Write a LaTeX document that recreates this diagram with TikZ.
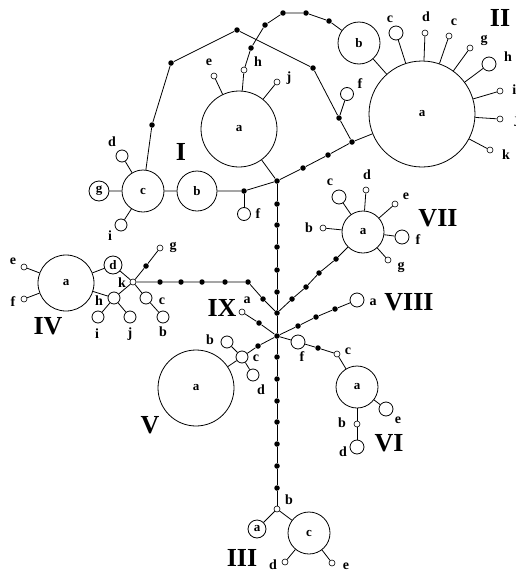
\documentclass[tikz,border=0pt]{standalone}
\usepackage{fontspec}
\setmainfont{Liberation Serif}
\begin{document}
\begin{tikzpicture}[x=1pt,y=-1pt,line width=0.8pt,
  hap/.style={circle,draw,inner sep=0pt,minimum size=#1,font=\fontsize{13}{13}\selectfont\bfseries},
  bd/.style={circle,fill,inner sep=0pt,minimum size=5.5pt},
  sm/.style={circle,draw,fill=white,inner sep=0pt,minimum size=6pt,line width=0.6pt},
  lab/.style={inner sep=0pt,font=\fontsize{14}{14}\selectfont\bfseries},
  grp/.style={inner sep=0pt,font=\fontsize{26}{26}\selectfont\bfseries}]
\useasboundingbox[fill=white] (0,0) rectangle (515,573);

% ---------------- Group I
\node[hap=76pt] (Ia) at (239,129) {a};
\node[hap=40pt] (Ib) at (197,191) {b};
\node[hap=42pt] (Ic) at (143,191) {c};
\node[hap=20pt] (Ig) at (99,191) {g};
\node[hap=12pt] (Id) at (122,156) {};
\node[hap=12pt] (Ii) at (121,225) {};
\node[sm] (Ie) at (214,76) {};
\node[sm] (Ih) at (244,70) {};
\node[sm] (Ij) at (277,82) {};
\node[bd] (Idot) at (244,191) {};
\node[hap=13pt] (If) at (244,214) {};
\node[bd] (J1) at (277,181) {};
\node[lab] (lId) at (112,142) {d};
\node[lab] (lIi) at (110,236) {i};
\node[lab] (lIe) at (209,62) {e};
\node[lab] (lIh) at (258,62) {h};
\node[lab] (lIj) at (289,78) {j};
\node[lab] (lIf) at (258,214) {f};
\node[grp] (gI) at (181,152) {I};

\draw (Ig) -- (Ic) -- (Ib) -- (Idot) -- (J1) -- (Ia);
\draw (Idot) -- (If);
\draw (Ic) -- (Id);
\draw (Ic) -- (Ii);
\draw (Ia) -- (Ie);
\draw (Ia) -- (Ih);
\draw (Ia) -- (Ij);

% ---------------- top path from I.c to II
\node[bd] (P1) at (152,125) {};
\node[bd] (P2) at (171,63) {};
\node[bd] (P3) at (237,30) {};
\node[bd] (P4) at (313,68) {};
\node[bd] (P5) at (339,118) {};
\node[bd] (J2) at (352,142) {};
\node[bd] (D1) at (303,168) {};
\node[bd] (D2) at (328,155) {};
\node[hap=13pt] (IIf) at (347,94) {};
\node[lab] (lIIf) at (360,84) {f};
\draw (Ic) -- (P1) -- (P2) -- (P3) -- (P4) -- (P5) -- (J2);
\draw (P5) -- (IIf);
\draw (J1) -- (D1) -- (D2) -- (J2);

% h path to II.b
\node[bd] (H1) at (251,48) {};
\node[bd] (H2) at (265,25) {};
\node[bd] (H3) at (283,13) {};
\node[bd] (H4) at (306,13) {};
\node[bd] (H5) at (329,21) {};
\node[hap=42pt] (IIb) at (359,43) {b};
\draw (Ih) -- (H1) -- (H2) -- (H3) -- (H4) -- (H5) -- (IIb);

% ---------------- Group II
\node[hap=106pt] (IIa) at (422,114) {a};
\draw (J2) -- (IIa);
\draw (IIb) -- (IIa);
\node[hap=14pt] (IIc1) at (396,33) {};
\node[sm] (IId) at (425,33) {};
\node[sm] (IIc2) at (449,36) {};
\node[sm] (IIg) at (470,48) {};
\node[hap=14pt] (IIh) at (489,64) {};
\node[sm] (IIi) at (500,91) {};
\node[sm] (IIj) at (500,119) {};
\node[sm] (IIk) at (490,150) {};
\foreach \s in {IIc1,IId,IIc2,IIg,IIh,IIi,IIj,IIk} \draw (IIa) -- (\s);
\node[lab] (lIIc1) at (390,19) {c};
\node[lab] (lIId) at (426,17) {d};
\node[lab] (lIIc2) at (454,22) {c};
\node[lab] (lIIg) at (484,40) {g};
\node[lab] (lIIh) at (508,57) {h};
\node[lab,anchor=west] (lIIi) at (512,90) {i};
\node[lab,anchor=west] (lIIj) at (514,120) {j};
\node[lab] (lIIk) at (506,155) {k};
\node[grp] (gII) at (500,18) {II};

% ---------------- central trunk
\node[bd] (V1) at (277,204) {};
\node[bd] (V2) at (277,225) {};
\node[bd] (V3) at (277,247) {};
\node[bd] (V4) at (277,270) {};
\node[bd] (V5) at (277,292) {};
\node[bd] (J3) at (277,313) {};
\node[bd] (Hub) at (277,336) {};
\node[bd] (W1) at (277,357) {};
\node[bd] (W2) at (277,379) {};
\node[bd] (W3) at (277,401) {};
\node[bd] (W4) at (277,422) {};
\node[bd] (W5) at (277,444) {};
\node[bd] (W6) at (277,466) {};
\node[bd] (W7) at (277,488) {};
\node[sm] (IIIb) at (277,509) {};
\draw (J1) -- (V1) -- (V2) -- (V3) -- (V4) -- (V5) -- (J3) -- (Hub) -- (W1) -- (W2) -- (W3) -- (W4) -- (W5) -- (W6) -- (W7) -- (IIIb);

% ---------------- Group III
\node[hap=18pt] (IIIa) at (257,529) {a};
\node[hap=42pt] (IIIc) at (309,533) {c};
\node[sm] (IIId) at (285,562) {};
\node[sm] (IIIe) at (332,563) {};
\draw (IIIb) -- (IIIa);
\draw (IIIb) -- (IIIc);
\draw (IIIc) -- (IIId);
\draw (IIIc) -- (IIIe);
\node[lab] (lIIIb) at (289,500) {b};
\node[lab] (lIIId) at (273,565) {d};
\node[lab] (lIIIe) at (346,566) {e};
\node[grp] (gIII) at (242,558) {III};

% ---------------- Group IX
\node[sm] (IXa) at (242,312) {};
\node[bd] (IXd) at (259,323) {};
\draw (IXa) -- (IXd) -- (Hub);
\node[lab] (lIXa) at (247,300) {a};
\node[grp] (gIX) at (222,308) {IX};

% ---------------- Group IV
\node[hap=56pt] (IVa) at (66,283) {a};
\node[hap=18pt] (IVd) at (113,265) {d};
\node[sm] (IVe) at (24,267) {};
\node[sm] (IVf) at (24,299) {};
\node[hap=12pt] (IVh) at (114,298) {};
\node[hap=12pt] (IVi) at (98,317) {};
\node[hap=12pt] (IVj) at (130,317) {};
\node[sm] (IVk) at (133,282) {};
\node[hap=12pt] (IVc) at (146,298) {};
\node[hap=12pt] (IVb) at (163,317) {};
\node[sm] (IVg) at (160,248) {};
\node[bd] (IVdot) at (146,266) {};
\draw (IVa) -- (IVd) -- (IVk);
\draw (IVa) -- (IVh) -- (IVk);
\draw (IVa) -- (IVe);
\draw (IVa) -- (IVf);
\draw (IVh) -- (IVi);
\draw (IVh) -- (IVj);
\draw (IVk) -- (IVc) -- (IVb);
\draw (IVk) -- (IVdot) -- (IVg);
\node[bd] (K1) at (160,282) {};
\node[bd] (K2) at (181,282) {};
\node[bd] (K3) at (202,282) {};
\node[bd] (K4) at (225,282) {};
\node[bd] (K5) at (248,282) {};
\node[bd] (K6) at (263,299) {};
\draw (IVk) -- (K1) -- (K2) -- (K3) -- (K4) -- (K5) -- (K6) -- (J3);
\node[lab] (lIVe) at (13,261) {e};
\node[lab] (lIVf) at (13,302) {f};
\node[lab] (lIVh) at (99,301) {h};
\node[lab] (lIVi) at (97,334) {i};
\node[lab] (lIVj) at (130,334) {j};
\node[lab] (lIVc) at (162,301) {c};
\node[lab] (lIVb) at (163,332) {b};
\node[lab] (lIVg) at (173,247) {g};
\node[lab] (lIVk) at (122,283) {k};
\node[grp] (gIV) at (48,326) {IV};

% ---------------- Group VII
\node[bd] (S1) at (292,299) {};
\node[bd] (S2) at (306,287) {};
\node[bd] (S3) at (319,273) {};
\node[bd] (S4) at (336,259) {};
\node[hap=42pt] (VIIa) at (363,232) {a};
\draw (J3) -- (S1) -- (S2) -- (S3) -- (S4) -- (VIIa);
\node[hap=14pt] (VIIc) at (339,197) {};
\node[sm] (VIId) at (366,190) {};
\node[sm] (VIIe) at (395,204) {};
\node[hap=14pt] (VIIf) at (402,237) {};
\node[sm] (VIIg) at (388,260) {};
\node[sm] (VIIb) at (323,228) {};
\foreach \s in {VIIc,VIId,VIIe,VIIf,VIIg,VIIb} \draw (VIIa) -- (\s);
\node[lab] (lVIIc) at (330,182) {c};
\node[lab] (lVIId) at (367,175) {d};
\node[lab] (lVIIe) at (406,196) {e};
\node[lab] (lVIIf) at (418,240) {f};
\node[lab] (lVIIg) at (401,267) {g};
\node[lab] (lVIIb) at (309,228) {b};
\node[grp] (gVII) at (438,218) {VII};

% ---------------- Group VIII
\node[bd] (E1) at (298,326) {};
\node[bd] (E2) at (316,317) {};
\node[bd] (E3) at (335,309) {};
\node[hap=14pt] (VIIIa) at (357,300) {};
\draw (Hub) -- (E1) -- (E2) -- (E3) -- (VIIIa);
\node[lab] (lVIIIa) at (373,302) {a};
\node[grp] (gVIII) at (409,302) {VIII};

% ---------------- Group VI
\node[hap=14pt] (VIf) at (298,342) {};
\node[bd] (F1) at (318,348) {};
\node[sm] (VIc) at (337,354) {};
\node[hap=42pt] (VIa) at (357,387) {a};
\node[hap=14pt] (VIe) at (386,409) {};
\node[sm] (VIb) at (357,424) {};
\node[hap=14pt] (VId) at (357,447) {};
\draw (Hub) -- (VIf) -- (F1) -- (VIc) -- (VIa);
\draw (VIa) -- (VIe);
\draw (VIa) -- (VIb) -- (VId);
\node[lab] (lVIf) at (302,357) {f};
\node[lab] (lVIc) at (348,351) {c};
\node[lab] (lVIe) at (398,420) {e};
\node[lab] (lVIb) at (342,423) {b};
\node[lab] (lVId) at (343,452) {d};
\node[grp] (gVI) at (389,443) {VI};

% ---------------- Group V
\node[bd] (G1) at (258,346) {};
\node[hap=12pt] (Vc) at (242,357) {};
\node[hap=12pt] (Vb) at (227,342) {};
\node[hap=12pt] (Vd) at (253,375) {};
\node[hap=76pt] (Va) at (196,388) {a};
\draw (Hub) -- (G1) -- (Vc) -- (Va);
\draw (Vc) -- (Vb);
\draw (Vc) -- (Vd);
\node[lab] (lVb) at (210,340) {b};
\node[lab] (lVc) at (256,358) {c};
\node[lab] (lVd) at (261,390) {d};
\node[grp] (gV) at (150,425) {V};
\end{tikzpicture}
\end{document}
